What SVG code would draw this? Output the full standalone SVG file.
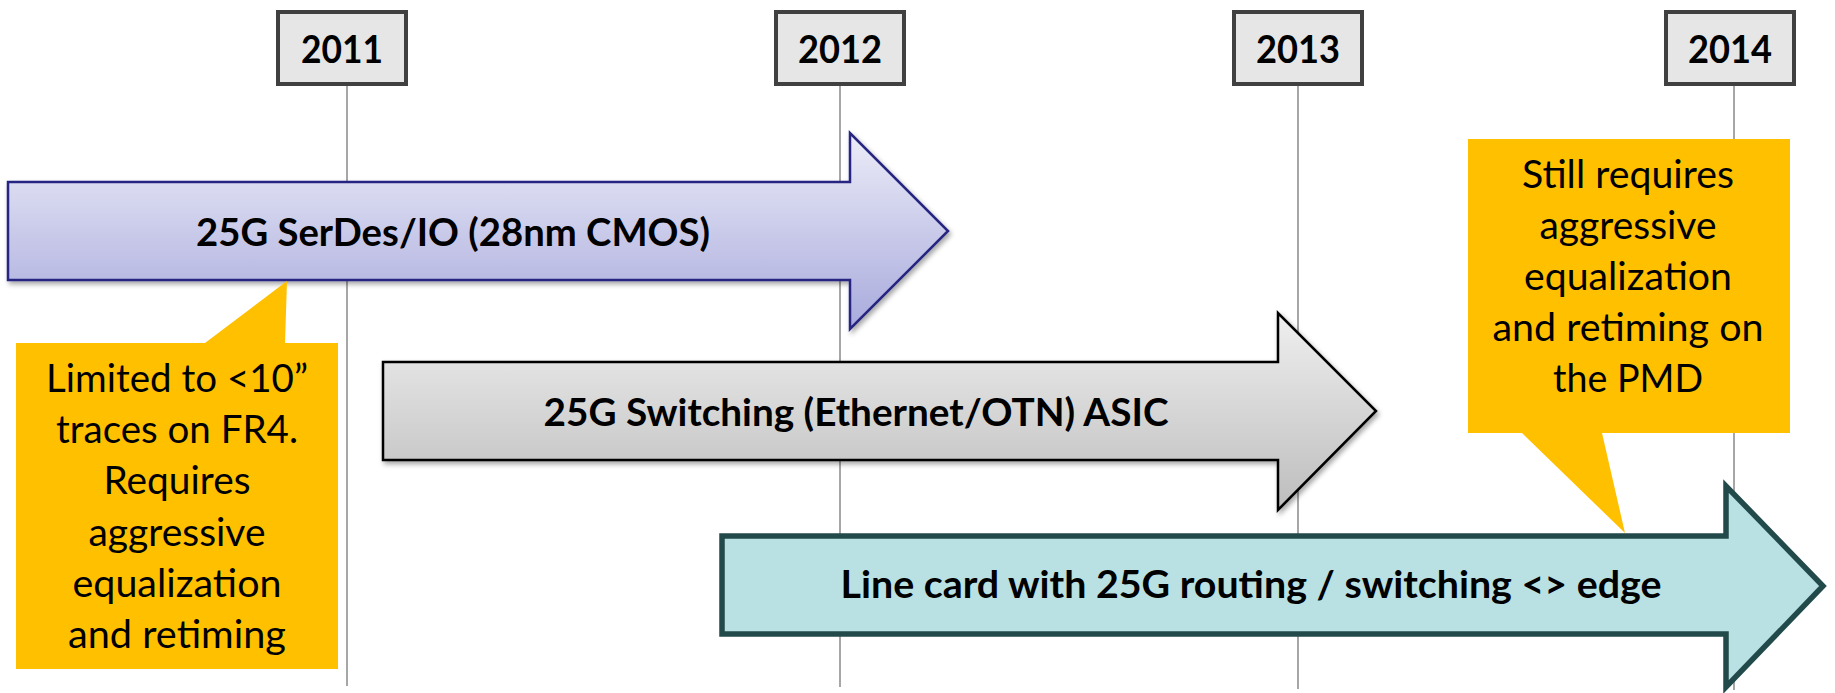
<svg xmlns="http://www.w3.org/2000/svg" width="1835" height="693" viewBox="0 0 1835 693">
  <defs>
    <linearGradient id="gPurple" x1="0" y1="0" x2="0" y2="1">
      <stop offset="0" stop-color="#ececf8"/>
      <stop offset="1" stop-color="#a8aadc"/>
    </linearGradient>
    <linearGradient id="gGray" x1="0" y1="0" x2="0" y2="1">
      <stop offset="0" stop-color="#efefef"/>
      <stop offset="1" stop-color="#bdbdbd"/>
    </linearGradient>
    <filter id="shadow" x="-5%" y="-10%" width="110%" height="130%">
      <feDropShadow dx="2" dy="3" stdDeviation="2.5" flood-color="#000" flood-opacity="0.35"/>
    </filter>
    <style>
      .grid { stroke: #a6a6a6; stroke-width: 2; fill: none; }
      .yearbox { fill: #e6e6e6; stroke: #404040; stroke-width: 4; }
      .year { font-family: Lato, "Liberation Sans", sans-serif; font-weight: bold; font-size: 38px; fill: #000; text-anchor: middle; }
      .label { font-family: Lato, "Liberation Sans", sans-serif; font-weight: bold; font-size: 38px; fill: #000; text-anchor: middle; }
      .note { font-family: Lato, "Liberation Sans", sans-serif; font-size: 38px; fill: #000; text-anchor: middle; }
      .callout { fill: #ffc000; }
    </style>
  </defs>

  <g id="connectors">
    <line class="grid" x1="347" y1="84" x2="347" y2="686"/>
    <line class="grid" x1="840" y1="84" x2="840" y2="687"/>
    <line class="grid" x1="1298" y1="84" x2="1298" y2="689"/>
    <line class="grid" x1="1734" y1="84" x2="1734" y2="690"/>
  </g>

  <g id="year-2011">
    <rect class="yearbox" x="278" y="12" width="128" height="72"/>
    <text class="year" x="342" y="63" textLength="82" lengthAdjust="spacingAndGlyphs">2011</text>
  </g>
  <g id="year-2012">
    <rect class="yearbox" x="776" y="12" width="128" height="72"/>
    <text class="year" x="840" y="63" textLength="84" lengthAdjust="spacingAndGlyphs">2012</text>
  </g>
  <g id="year-2013">
    <rect class="yearbox" x="1234" y="12" width="128" height="72"/>
    <text class="year" x="1298" y="63" textLength="84" lengthAdjust="spacingAndGlyphs">2013</text>
  </g>
  <g id="year-2014">
    <rect class="yearbox" x="1666" y="12" width="128" height="72"/>
    <text class="year" x="1730" y="63" textLength="84" lengthAdjust="spacingAndGlyphs">2014</text>
  </g>

  <g id="arrow-serdes">
    <path d="M8,182 L850,182 L850,133 L948,231 L850,329 L850,280 L8,280 Z" fill="url(#gPurple)" stroke="#262682" stroke-width="2.5" stroke-linejoin="miter" filter="url(#shadow)"/>
    <text class="label" x="453" y="246" textLength="514" lengthAdjust="spacingAndGlyphs">25G SerDes/IO (28nm CMOS)</text>
  </g>

  <g id="arrow-switching">
    <path d="M383,362 L1278,362 L1278,313 L1376,411 L1278,510 L1278,460 L383,460 Z" fill="url(#gGray)" stroke="#000" stroke-width="2.5" filter="url(#shadow)"/>
    <text class="label" x="856" y="426" textLength="625" lengthAdjust="spacingAndGlyphs">25G Switching (Ethernet/OTN) ASIC</text>
  </g>

  <g id="arrow-linecard">
    <path d="M722,536 L1726,536 L1726,486 L1823,586 L1726,687 L1726,634 L722,634 Z" fill="#b9e0e3" stroke="#224a4b" stroke-width="5.5"/>
    <text class="label" x="1251" y="598" textLength="821" lengthAdjust="spacingAndGlyphs">Line card with 25G routing / switching &lt;&gt; edge</text>
  </g>

  <g id="callout-left">
    <path class="callout" d="M16,343 L205,343 L287,281 L285,343 L338,343 L338,669 L16,669 Z"/>
    <text class="note" x="177" y="392" textLength="262" lengthAdjust="spacingAndGlyphs">Limited to &lt;10”</text>
    <text class="note" x="177" y="443" textLength="242" lengthAdjust="spacingAndGlyphs">traces on FR4.</text>
    <text class="note" x="177" y="494" textLength="147" lengthAdjust="spacingAndGlyphs">Requires</text>
    <text class="note" x="177" y="546" textLength="177" lengthAdjust="spacingAndGlyphs">aggressive</text>
    <text class="note" x="177" y="597" textLength="209" lengthAdjust="spacingAndGlyphs">equalization</text>
    <text class="note" x="177" y="648" textLength="218" lengthAdjust="spacingAndGlyphs">and retiming</text>
  </g>

  <g id="callout-right">
    <path class="callout" d="M1468,139 L1790,139 L1790,433 L1602,433 L1625,533 L1522,433 L1468,433 Z"/>
    <text class="note" x="1628" y="188" textLength="212" lengthAdjust="spacingAndGlyphs">Still requires</text>
    <text class="note" x="1628" y="239" textLength="177" lengthAdjust="spacingAndGlyphs">aggressive</text>
    <text class="note" x="1628" y="290" textLength="208" lengthAdjust="spacingAndGlyphs">equalization</text>
    <text class="note" x="1628" y="341" textLength="271" lengthAdjust="spacingAndGlyphs">and retiming on</text>
    <text class="note" x="1628" y="392" textLength="150" lengthAdjust="spacingAndGlyphs">the PMD</text>
  </g>
</svg>
